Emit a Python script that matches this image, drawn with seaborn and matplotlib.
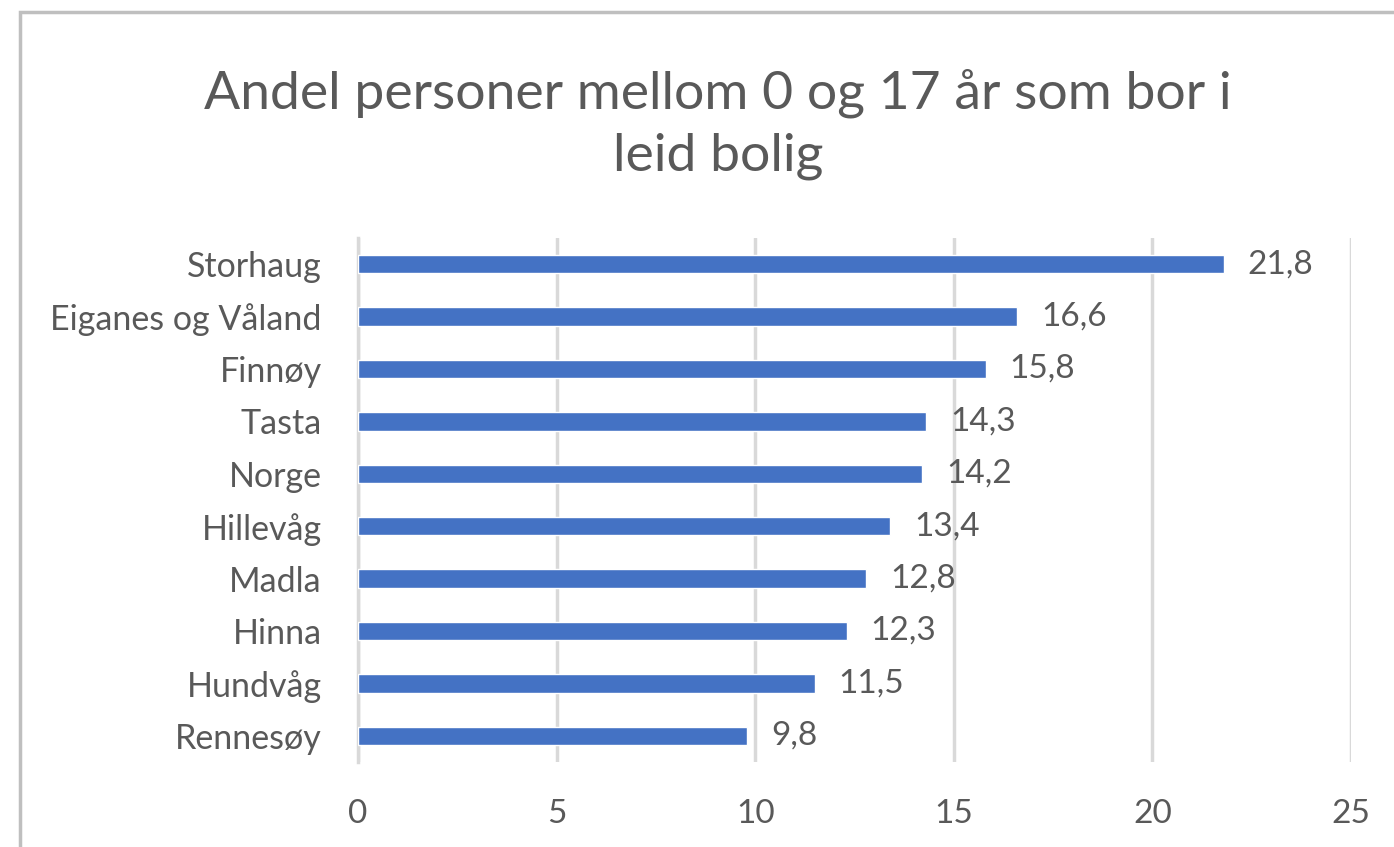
import matplotlib.pyplot as plt
import matplotlib.patches as mpatches
import seaborn as sns
import pandas as pd

# data
areas = ['Storhaug', 'Eiganes og Våland', 'Finnøy', 'Tasta', 'Norge',
         'Hillevåg', 'Madla', 'Hinna', 'Hundvåg', 'Rennesøy']
shares = [21.8, 16.6, 15.8, 14.3, 14.2, 13.4, 12.8, 12.3, 11.5, 9.8]
x_ticks = [0, 5, 10, 15, 20, 25]

df = pd.DataFrame({'area': areas, 'share': shares})

sns.set_style('white')
plt.rcParams['font.family'] = ['Lato', 'DejaVu Sans']
text_col = '#595959'

fig = plt.figure(figsize=(13.94, 8.47), dpi=100)
ax = fig.add_axes([0.2568, 0.1004, 0.7124, 0.6186])

sns.barplot(data=df, x='share', y='area', color='#4472C4', width=0.35,
            saturation=1, ax=ax, zorder=3)

ax.set_xlim(0, 25)
ax.set_ylim(9.5, -0.5)
ax.set_xticks(x_ticks)
ax.set_xticklabels([str(t) for t in x_ticks], fontsize=24, color=text_col)
ax.tick_params(axis='x', length=0, pad=27)
ax.tick_params(axis='y', length=0, pad=26, labelsize=24.5, labelcolor=text_col)
ax.set_xlabel('')
ax.set_ylabel('')
ax.xaxis.grid(True, color='#d9d9d9', linewidth=2.5, zorder=0)
for s in ['top', 'right', 'bottom']:
    ax.spines[s].set_visible(False)
ax.spines['left'].set_color('#d9d9d9')
ax.spines['left'].set_linewidth(2.5)

for i, v in enumerate(shares):
    ax.text(v + 0.6, i, f'{v:.1f}'.replace('.', ','), va='center', ha='left',
            fontsize=24, color=text_col)

fig.text(0.515, 0.853, 'Andel personer mellom 0 og 17 år som bor i\nleid bolig',
         ha='center', va='center', fontsize=38.5, color=text_col, linespacing=1.38)

# grey frame of the chart area, cut off at the right and bottom
frame = mpatches.Rectangle((20 / 1394, -0.1), 1.2, 1 - 12 / 847 + 0.1,
                           transform=fig.transFigure, fill=False,
                           edgecolor='#bfbfbf', linewidth=2.5)
fig.patches.append(frame)

fig.savefig('out.png', dpi=100)
